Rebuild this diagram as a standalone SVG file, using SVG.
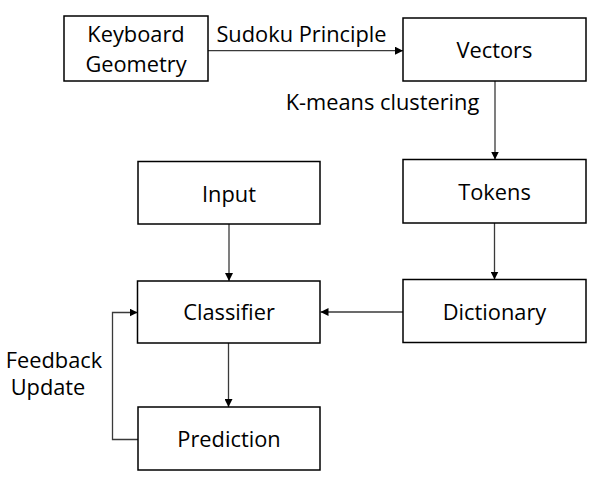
<svg xmlns="http://www.w3.org/2000/svg" width="601" height="483" viewBox="0 0 601 483">
<defs>
<marker id="ah" viewBox="0 0 10 10" refX="10" refY="5" markerUnits="userSpaceOnUse" markerWidth="8" markerHeight="8" orient="auto">
<path d="M0,0 L10,5 L0,10 Z" fill="#000"/>
</marker>
<style>
.box{fill:#fff;stroke:#000;stroke-width:1.5}
.t{font-family:"Open Sans","Liberation Sans",sans-serif;font-size:21.8px;fill:#000;text-anchor:middle}
.c{fill:none;stroke:#3a3a3a;stroke-width:1.3;marker-end:url(#ah)}
</style>
</defs>
<rect width="601" height="483" fill="#fff"/>
<g id="connectors">
<path class="c" d="M208,50.7 H403"/>
<path class="c" d="M495,81 V159.5"/>
<path class="c" d="M494.5,223 V279.5"/>
<path class="c" d="M229,224 V281"/>
<path class="c" d="M403,312 H320.5"/>
<path class="c" d="M228.5,343 V407"/>
<path class="c" d="M138,439.5 H112.5 V312.5 H137.5"/>
<text class="t" x="301.5" y="42">Sudoku Principle</text>
<text class="t" x="382.5" y="110">K-means clustering</text>
<text class="t"><tspan x="54" y="368">Feedback</tspan><tspan x="48" y="395">Update</tspan></text>
</g>
<g id="keyboard">
<rect class="box" x="64" y="16" width="144" height="65"/>
<text class="t"><tspan x="136" y="42">Keyboard</tspan><tspan x="136" y="72">Geometry</tspan></text>
</g>
<g id="vectors">
<rect class="box" x="403" y="18" width="183" height="63"/>
<text class="t" x="494.5" y="58">Vectors</text>
</g>
<g id="tokens">
<rect class="box" x="403" y="159.5" width="183" height="63.5"/>
<text class="t" x="494.5" y="200">Tokens</text>
</g>
<g id="input">
<rect class="box" x="138" y="161.5" width="182" height="62.5"/>
<text class="t" x="229" y="202">Input</text>
</g>
<g id="classifier">
<rect class="box" x="137.5" y="281" width="182.5" height="62"/>
<text class="t" x="229" y="320">Classifier</text>
</g>
<g id="dictionary">
<rect class="box" x="403" y="279.5" width="183" height="63"/>
<text class="t" x="494.5" y="320">Dictionary</text>
</g>
<g id="prediction">
<rect class="box" x="138" y="407" width="182" height="63"/>
<text class="t" x="229" y="447">Prediction</text>
</g>
</svg>
